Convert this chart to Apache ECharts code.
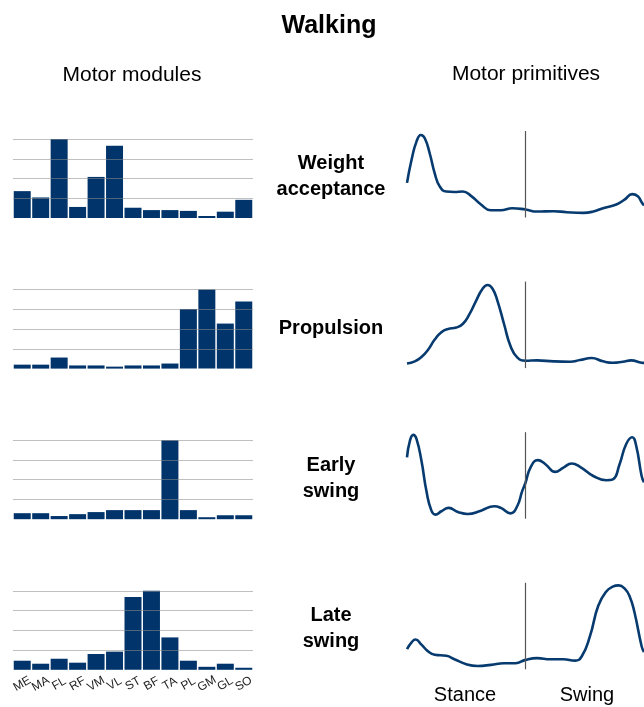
<!DOCTYPE html>
<html>
<head>
<meta charset="utf-8">
<title>Walking</title>
<script src="https://cdn.jsdelivr.net/npm/echarts@6/dist/echarts.min.js"></script>
<style>
  html, body { margin: 0; padding: 0; background: #fff; }
  #chart { width: 644px; height: 707px; }
</style>
</head>
<body>
<div id="chart"></div>
<script>
// Muscles along the module bar charts
const muscles = ['ME', 'MA', 'FL', 'RF', 'VM', 'VL', 'ST', 'BF', 'TA', 'PL', 'GM', 'GL', 'SO'];

// Gait phases, one row each
const phases = ['Weight\nacceptance', 'Propulsion', 'Early\nswing', 'Late\nswing'];

// Motor module weights (normalised to the strongest muscle)
const moduleWeightAcceptance = [0.34, 0.26, 1.00, 0.14, 0.52, 0.915, 0.13, 0.10, 0.10, 0.09, 0.025, 0.08, 0.23];
const modulePropulsion       = [0.05, 0.05, 0.14, 0.04, 0.04, 0.025, 0.04, 0.04, 0.064, 0.755, 1.00, 0.57, 0.85];
const moduleEarlySwing       = [0.076, 0.076, 0.04, 0.064, 0.09, 0.115, 0.115, 0.115, 1.00, 0.115, 0.025, 0.05, 0.05];
const moduleLateSwing        = [0.115, 0.077, 0.14, 0.09, 0.20, 0.23, 0.92, 1.00, 0.41, 0.115, 0.038, 0.077, 0.026];

// Motor primitives: [% of gait cycle, normalised activation]
const primitiveWeightAcceptance = [
  [0, 0.40], [1.95, 0.67], [4.0, 0.877], [5.85, 0.954], [7.5, 0.916], [9.6, 0.74],
  [11.7, 0.51], [13.8, 0.36], [16.6, 0.30], [20, 0.295], [23.5, 0.30], [27, 0.25],
  [31.2, 0.15], [35.4, 0.084], [39.6, 0.084], [44.4, 0.107], [50, 0.092], [54.9, 0.069],
  [61.8, 0.073], [67.4, 0.061], [74.4, 0.054], [78.6, 0.069], [82.7, 0.107], [88.3, 0.15],
  [91.8, 0.207], [95, 0.27], [97.4, 0.245], [99, 0.176], [100, 0.14]
];
const primitivePropulsion = [
  [0, 0.054], [3.3, 0.078], [6.1, 0.128], [8.9, 0.213], [11.7, 0.33], [14.5, 0.415],
  [17.3, 0.453], [20.8, 0.469], [23.5, 0.51], [26.3, 0.62], [29.1, 0.775], [31.9, 0.918],
  [34, 0.96], [36.1, 0.918], [38.2, 0.775], [41, 0.504], [43.7, 0.252], [46.5, 0.124],
  [50, 0.085], [54.9, 0.089], [61.8, 0.078], [68.8, 0.074], [73, 0.093], [77.9, 0.116],
  [82.7, 0.078], [86.9, 0.062], [91.1, 0.074], [94.6, 0.089], [99, 0.062], [100, 0.06]
];
const primitiveEarlySwing = [
  [0, 0.708], [1.25, 0.903], [2.65, 0.969], [4.0, 0.922], [6.1, 0.669], [8.2, 0.319],
  [10.3, 0.093], [12, 0.047], [14.5, 0.086], [17.6, 0.125], [21.5, 0.078], [25.6, 0.054],
  [31.2, 0.093], [36.8, 0.144], [39.6, 0.125], [43.7, 0.062], [46.5, 0.144], [48.6, 0.319],
  [50, 0.416], [52.1, 0.591], [55.2, 0.677], [58.4, 0.63], [62.5, 0.541], [66, 0.591],
  [69.5, 0.638], [73, 0.60], [78.6, 0.494], [84.1, 0.444], [86.9, 0.455], [89.7, 0.63],
  [92.5, 0.864], [95, 0.942], [96.7, 0.844], [99, 0.494], [100, 0.42]
];
const primitiveLateSwing = [
  [0, 0.234], [1.95, 0.3125], [3.6, 0.344], [6.1, 0.285], [8.9, 0.207], [11.7, 0.168],
  [16.6, 0.156], [20, 0.117], [25, 0.059], [29.8, 0.039], [35.4, 0.051], [40.9, 0.07],
  [45.8, 0.07], [50, 0.109], [54.9, 0.129], [60.5, 0.117], [66, 0.117], [70.9, 0.10],
  [73.7, 0.148], [77.2, 0.383], [80.7, 0.734], [84.1, 0.90], [86.8, 0.955], [89.3, 0.97],
  [91.8, 0.935], [94, 0.84], [96, 0.656], [99, 0.266], [100, 0.20]
];

// Stance/swing boundary (% of gait cycle)
const stanceEnd = 50;
const phaseLabels = ['Stance', 'Swing'];

const moduleSets = [moduleWeightAcceptance, modulePropulsion, moduleEarlySwing, moduleLateSwing];
const primitiveSets = [primitiveWeightAcceptance, primitivePropulsion, primitiveEarlySwing, primitiveLateSwing];

const FONT = '"Liberation Sans", Arial, sans-serif';
const BAR_COLOR = '#00346A';
const LINE_COLOR = '#073B70';
const ROW_STEP = 150.6;
const ROW_LABEL_Y = [176, 328, 478, 628.5];

const grids = [], xAxes = [], yAxes = [], series = [], rowLabels = [];

moduleSets.forEach((values, i) => {
  const last = i === moduleSets.length - 1;
  // bar chart grid
  grids.push({ left: 13, width: 240, top: 139 + i * ROW_STEP, height: 79 });
  xAxes.push({
    type: 'category', gridIndex: 2 * i, data: muscles,
    axisLine: { show: false }, axisTick: { show: false },
    axisLabel: {
      show: last, interval: 0, rotate: 30, margin: 14,
      align: 'center', verticalAlign: 'middle',
      fontFamily: FONT, fontSize: 12, color: '#222'
    }
  });
  yAxes.push({
    type: 'value', gridIndex: 2 * i, min: 0, max: 1, interval: 0.25, z: 3,
    axisLine: { show: false }, axisTick: { show: false }, axisLabel: { show: false },
    splitLine: { show: true, showMinLine: false, lineStyle: { color: 'rgba(140,140,140,0.55)', width: 1 } }
  });
  series.push({
    type: 'bar', xAxisIndex: 2 * i, yAxisIndex: 2 * i, data: values,
    barCategoryGap: '8%', itemStyle: { color: BAR_COLOR }, silent: true
  });

  // primitive curve grid
  grids.push({ left: 407, width: 239, top: 131 + i * ROW_STEP, height: 86.5 });
  xAxes.push({ type: 'value', gridIndex: 2 * i + 1, min: 0, max: 100, show: false });
  yAxes.push({ type: 'value', gridIndex: 2 * i + 1, min: 0, max: 1, show: false });
  series.push({
    type: 'line', xAxisIndex: 2 * i + 1, yAxisIndex: 2 * i + 1,
    data: primitiveSets[i], smooth: true, showSymbol: false, silent: true,
    lineStyle: { color: LINE_COLOR, width: 2.6 },
    markLine: {
      silent: true, symbol: 'none', label: { show: false },
      lineStyle: { color: '#555', width: 1.2, type: 'solid' },
      data: [{ xAxis: stanceEnd }]
    }
  });

  // phase name between the two panels
  rowLabels.push({
    type: 'text',
    style: {
      text: phases[i], x: 331, y: ROW_LABEL_Y[i],
      align: 'center', verticalAlign: 'middle',
      font: 'bold 20px ' + FONT, fill: '#000', lineHeight: 26
    }
  });
});

const option = {
  animation: false,
  backgroundColor: '#fff',
  grid: grids,
  xAxis: xAxes,
  yAxis: yAxes,
  series: series,
  graphic: [
    { type: 'text', style: { text: 'Walking', x: 329, y: 26, align: 'center', verticalAlign: 'middle', font: 'bold 25px ' + FONT, fill: '#000' } },
    { type: 'text', style: { text: 'Motor modules', x: 132, y: 75, align: 'center', verticalAlign: 'middle', font: '21px ' + FONT, fill: '#000' } },
    { type: 'text', style: { text: 'Motor primitives', x: 526, y: 74, align: 'center', verticalAlign: 'middle', font: '21px ' + FONT, fill: '#000' } },
    { type: 'text', style: { text: phaseLabels[0], x: 465, y: 695, align: 'center', verticalAlign: 'middle', font: '20px ' + FONT, fill: '#000' } },
    { type: 'text', style: { text: phaseLabels[1], x: 587, y: 695, align: 'center', verticalAlign: 'middle', font: '20px ' + FONT, fill: '#000' } }
  ].concat(rowLabels)
};

const chart = echarts.init(document.getElementById('chart'), null, { renderer: 'canvas' });
chart.setOption(option);
</script>
</body>
</html>
